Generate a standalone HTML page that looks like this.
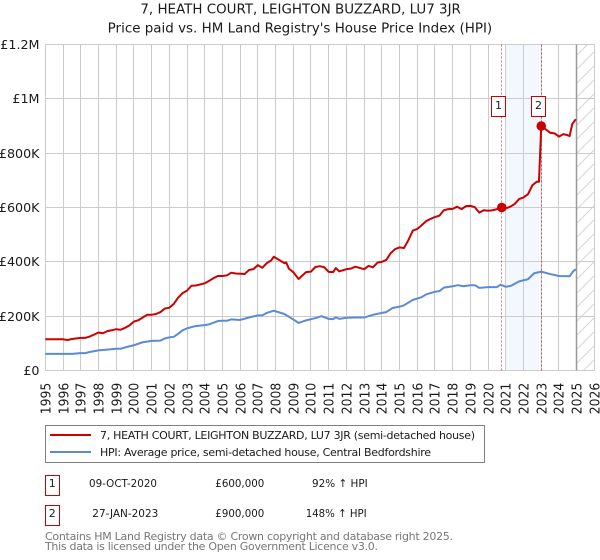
<!DOCTYPE html>
<html lang="en">
<head>
<meta charset="utf-8">
<title>7, Heath Court price paid vs HPI</title>
<style>
html,body{margin:0;padding:0;background:#fff;}
svg{display:block;font-family:"DejaVu Sans","Liberation Sans",sans-serif;}
text{fill:#1a1a1a;}
</style>
</head>
<body>
<svg id="chart" width="600" height="560" viewBox="0 0 600 560" xmlns="http://www.w3.org/2000/svg">
  <defs>
    <pattern id="hatch" patternUnits="userSpaceOnUse" width="14" height="14" patternTransform="translate(576 0)">
      <path d="M-1 15L15 -1M-8 8L8 -8M6 22L22 6" stroke="#d4d4d4" stroke-width="1" fill="none"/>
    </pattern>
  </defs>
  <text x="140.4" y="13.5" font-size="13" textLength="320.5" lengthAdjust="spacingAndGlyphs">7, HEATH COURT, LEIGHTON BUZZARD, LU7 3JR</text>
  <text x="107.7" y="32.5" font-size="13" textLength="384.5" lengthAdjust="spacingAndGlyphs">Price paid vs. HM Land Registry's House Price Index (HPI)</text>
  <g id="plot"></g>

  <g>
    <rect x="45.5" y="425.5" width="439" height="37" fill="#fff" stroke="#808080" stroke-width="1"/>
    <line x1="50" x2="91" y1="435" y2="435" stroke="#cc0000" stroke-width="2"/>
    <text x="100" y="439" font-size="11" textLength="375" lengthAdjust="spacing">7, HEATH COURT, LEIGHTON BUZZARD, LU7 3JR (semi-detached house)</text>
    <line x1="50" x2="91" y1="452" y2="452" stroke="#5b8bd4" stroke-width="2"/>
    <text x="100" y="456" font-size="11" textLength="331" lengthAdjust="spacing">HPI: Average price, semi-detached house, Central Bedfordshire</text>
  </g>

  <g font-size="11">
    <rect x="45.5" y="475.5" width="14" height="20" fill="#fff" stroke="#cc0000"/>
    <text x="52.3" y="487" text-anchor="middle">1</text>
    <text x="89" y="487" textLength="68" lengthAdjust="spacingAndGlyphs">09-OCT-2020</text>
    <text x="215.3" y="487" textLength="49" lengthAdjust="spacingAndGlyphs">£600,000</text>
    <text x="312" y="487" textLength="55.7" lengthAdjust="spacingAndGlyphs">92% ↑ HPI</text>
    <rect x="45.5" y="505.5" width="14" height="20" fill="#fff" stroke="#cc0000"/>
    <text x="52.3" y="517" text-anchor="middle">2</text>
    <text x="92.3" y="517" textLength="66" lengthAdjust="spacingAndGlyphs">27-JAN-2023</text>
    <text x="215.3" y="517" textLength="49" lengthAdjust="spacingAndGlyphs">£900,000</text>
    <text x="305.7" y="517" textLength="61" lengthAdjust="spacingAndGlyphs">148% ↑ HPI</text>
  </g>

  <text x="45" y="540" font-size="11" style="fill:#777" textLength="408" lengthAdjust="spacing">Contains HM Land Registry data © Crown copyright and database right 2025.</text>
  <text x="45" y="550" font-size="11" style="fill:#777" textLength="333" lengthAdjust="spacing">This data is licensed under the Open Government Licence v3.0.</text>
</svg>
<script>
const yearTicks = [1995,1996,1997,1998,1999,2000,2001,2002,2003,2004,2005,2006,2007,2008,2009,2010,2011,2012,2013,2014,2015,2016,2017,2018,2019,2020,2021,2022,2023,2024,2025,2026];
const valueTicks = [0,200000,400000,600000,800000,1000000,1200000];
const valueTickLabels = ['£0','£200K','£400K','£600K','£800K','£1M','£1.2M'];

const priceYears = [1995,1995.5,1996,1996.25,1996.5,1997,1997.25,1997.5,1997.75,1998,1998.25,1998.5,1998.75,1999,1999.25,1999.5,1999.75,2000,2000.25,2000.5,2000.75,2001,2001.25,2001.5,2001.75,2002,2002.25,2002.5,2002.75,2003,2003.25,2003.5,2004,2004.25,2004.5,2004.75,2005,2005.25,2005.5,2005.75,2006,2006.25,2006.5,2006.75,2007,2007.25,2007.5,2007.75,2007.9,2008.25,2008.5,2008.6,2008.75,2009,2009.3,2009.72,2010,2010.25,2010.5,2010.75,2011,2011.25,2011.4,2011.6,2012,2012.25,2012.5,2013,2013.25,2013.5,2013.75,2014,2014.25,2014.5,2014.75,2015,2015.25,2015.5,2015.75,2016,2016.25,2016.5,2016.75,2017,2017.25,2017.5,2017.75,2018,2018.25,2018.5,2018.75,2019,2019.25,2019.5,2019.75,2020,2020.25,2020.5,2020.77,2021,2021.25,2021.5,2021.75,2022,2022.25,2022.5,2022.75,2022.87,2023,2023.25,2023.5,2023.75,2024,2024.25,2024.5,2024.6,2024.75,2024.95];
const priceValues = [115000,115000,115000,112000,116000,120000,120000,125000,132000,140000,137000,145000,148000,152000,150000,157000,166000,180000,185000,195000,205000,205000,208000,215000,228000,231000,245000,268000,285000,294000,312000,313000,321000,330000,340000,348000,348000,350000,360000,357000,356000,355000,370000,373000,388000,378000,395000,405000,419000,405000,395000,398000,375000,362000,337000,362000,364000,381000,384000,380000,363000,362000,377000,365000,373000,375000,382000,373000,385000,380000,397000,400000,407000,432000,447000,453000,451000,480000,515000,521000,535000,550000,558000,565000,570000,590000,594000,595000,603000,594000,605000,606000,601000,581000,590000,588000,590000,594000,600000,597000,603000,613000,631000,637000,649000,682000,695000,695000,900000,888000,875000,873000,861000,870000,866000,863000,907000,925000];

const hpiYears = [1995,1996,1996.5,1997,1997.25,1997.5,1998,1998.5,1999,1999.25,1999.5,2000,2000.5,2001,2001.5,2001.75,2002,2002.25,2002.5,2002.75,2003,2003.5,2004,2004.25,2004.75,2005,2005.25,2005.5,2006,2006.5,2007,2007.25,2007.5,2007.9,2008.25,2008.5,2009,2009.3,2009.75,2010.25,2010.6,2011,2011.25,2011.4,2011.6,2012,2012.5,2013,2013.5,2014,2014.25,2014.6,2015,2015.25,2015.75,2016.25,2016.5,2017,2017.25,2017.5,2018,2018.3,2018.6,2019,2019.25,2019.5,2020,2020.5,2020.7,2021,2021.3,2021.75,2022.25,2022.6,2023,2023.5,2024,2024.6,2024.8,2024.95];
const hpiValues = [61000,61000,61000,64000,64000,68000,74000,77000,80000,80000,85000,93000,104000,109000,110000,118000,122000,124000,135000,148000,155000,164000,167000,170000,182000,183000,183000,188000,186000,195000,203000,203000,212000,220000,213000,208000,188000,175000,185000,193000,200000,190000,189000,196000,190000,194000,195000,195000,205000,212000,215000,230000,235000,240000,260000,270000,280000,290000,292000,305000,310000,314000,310000,314000,314000,304000,307000,307000,316000,308000,312000,328000,336000,358000,364000,355000,348000,347000,365000,373000];

const saleYears = [2020.77,2023];
const salePrices = [600000,900000];
const saleNumbers = ['1','2'];
const shadedRange = [2021,2023];
const hatchedRange = [2025,2026];

const SVGNS = 'http://www.w3.org/2000/svg';
const plot = document.getElementById('plot');
const xMin = 1995, xMax = 2026, yMin = 0, yMax = 1200000;
const left = 45.3, right = 594.4, top_ = 44.5, bottom = 370.5;
function xScale(v){ return left + (v - xMin) / (xMax - xMin) * (right - left); }
function yScale(v){ return bottom - (v - yMin) / (yMax - yMin) * (bottom - top_); }
function snap(v){ return Math.round(v - 0.5) + 0.5; }
function make(tag, attrs){
  const el = document.createElementNS(SVGNS, tag);
  for (const k in attrs) el.setAttribute(k, attrs[k]);
  return el;
}
function pointsOf(xs, ys){
  return xs.map(function(x, i){ return xScale(x).toFixed(2) + ',' + yScale(ys[i]).toFixed(2); }).join(' ');
}

const shade = make('rect', {x: xScale(shadedRange[0]), y: top_, width: xScale(shadedRange[1]) - xScale(shadedRange[0]), height: bottom - top_, fill: '#f3f7fe'});


plot.appendChild(shade);

const hatch = make('rect', {x: xScale(hatchedRange[0]), y: top_, width: xScale(hatchedRange[1]) - xScale(hatchedRange[0]), height: bottom - top_, fill: 'url(#hatch)'});


plot.appendChild(hatch);

yearTicks.forEach(function(yr){
  const x = snap(xScale(yr));
  const g = make('line', {x1: x, x2: x, y1: top_, y2: bottom, stroke: '#cccccc', 'stroke-width': 1});
  
  
  plot.appendChild(g);
  const t = make('text', {x: 0, y: 0, 'font-size': 13.3, textLength: 31.5, lengthAdjust: 'spacingAndGlyphs', transform: 'translate(' + (x + 5) + ' 414.3) rotate(-90)'});
  t.textContent = String(yr);
  
  
  plot.appendChild(t);
});

valueTicks.forEach(function(v, i){
  const y = snap(yScale(v));
  const g = make('line', {x1: left, x2: right + 0.4, y1: y, y2: y, stroke: '#cccccc', 'stroke-width': 1});
  
  
  plot.appendChild(g);
  const t = make('text', {x: 39.5, y: y + 4.5, 'font-size': 12.7, 'text-anchor': 'end'});
  t.textContent = valueTickLabels[i];
  
  
  plot.appendChild(t);
});

const endLine = make('line', {x1: snap(xScale(hatchedRange[0])), x2: snap(xScale(hatchedRange[0])), y1: top_, y2: bottom, stroke: '#999999', 'stroke-width': 1.5});


plot.appendChild(endLine);

saleYears.forEach(function(yr){
  const x = snap(xScale(yr));
  const d = make('line', {x1: x, x2: x, y1: top_, y2: bottom, stroke: '#cc0000', 'stroke-width': 1, 'stroke-dasharray': '2 2', 'stroke-opacity': 0.55});
  
  
  plot.appendChild(d);
});

const hpiLine = make('polyline', {points: pointsOf(hpiYears, hpiValues), fill: 'none', stroke: '#5b8bd4', 'stroke-width': 2, 'stroke-linejoin': 'round'});


plot.appendChild(hpiLine);

const priceLine = make('polyline', {points: pointsOf(priceYears, priceValues), fill: 'none', stroke: '#cc0000', 'stroke-width': 2, 'stroke-linejoin': 'round'});


plot.appendChild(priceLine);

saleYears.forEach(function(yr, i){
  const c = make('circle', {cx: xScale(yr), cy: yScale(salePrices[i]), r: 4.8, fill: '#cc0000'});
  
  
  plot.appendChild(c);
  const x = snap(xScale(yr)) - 10;
  const b = make('rect', {x: x, y: 96.5, width: 14, height: 20, fill: '#fff', stroke: '#cc0000', 'stroke-width': 1});
  
  
  plot.appendChild(b);
  const t = make('text', {x: x + 7, y: 109, 'font-size': 11, 'text-anchor': 'middle'});
  t.textContent = saleNumbers[i];
  
  
  plot.appendChild(t);
});
</script>
</body>
</html>
